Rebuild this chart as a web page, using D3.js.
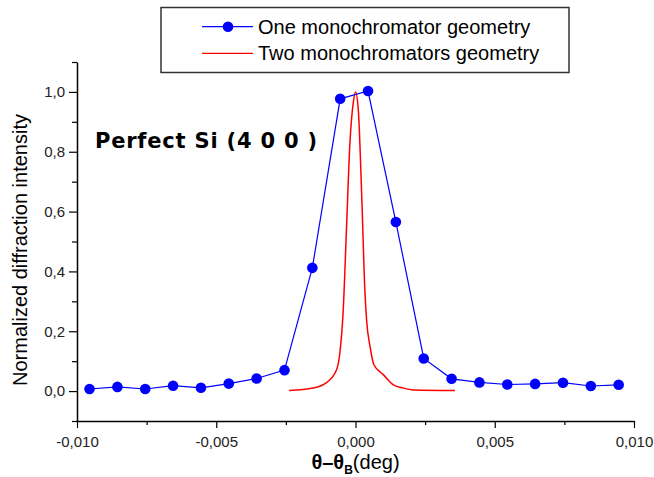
<!DOCTYPE html>
<html>
<head>
<meta charset="utf-8" />
<title></title>
<style>
html, body {
    padding: 0px;
    margin: 0px;
    background: #fff;
}
text {
    font-family: "Liberation Sans", Arial, sans-serif;
}
</style>
</head>
<body>
<div id="chart"></div>
<script src="https://cdnjs.cloudflare.com/ajax/libs/d3/7.8.5/d3.min.js"></script>
<script>
!(function(){
    "use strict"

    // one monochromator: measured points
    var oneX = [-0.00955, -0.00855, -0.00755, -0.00655, -0.00555, -0.00455, -0.00355, -0.00255, -0.00155, -0.00055,
                0.00045, 0.00145, 0.00245, 0.00345, 0.00445, 0.00545, 0.00645, 0.00745, 0.00845, 0.00945]
    var oneY = [0.007, 0.014, 0.007, 0.018, 0.011, 0.025, 0.042, 0.070, 0.412, 0.977,
                1.003, 0.565, 0.109, 0.041, 0.029, 0.022, 0.024, 0.028, 0.017, 0.021]

    // two monochromators: curve
    var twoX = [-0.00238, -0.00152, -0.00103, -0.00068, -0.00056, -0.00044, -0.00032, -0.00020, -0.00008, 0.00000,
                0.00010, 0.00022, 0.00034, 0.00040, 0.00052, 0.00066, 0.00100, 0.00136, 0.00172, 0.00208, 0.00357]
    var twoY = [0.002, 0.010, 0.029, 0.071, 0.128, 0.272, 0.551, 0.830, 0.964, 1.000,
                0.941, 0.663, 0.329, 0.235, 0.150, 0.088, 0.055, 0.021, 0.010, 0.004, 0.002]

    var xMajor = [-0.010, -0.005, 0.000, 0.005, 0.010]
    var xMinor = [-0.0075, -0.0025, 0.0025, 0.0075]
    var yMajor = [0.0, 0.2, 0.4, 0.6, 0.8, 1.0]
    var yMinor = [-0.1, 0.1, 0.3, 0.5, 0.7, 0.9, 1.1]

    var legendNames = ["One monochromator geometry", "Two monochromators geometry"]

    var W = 654, H = 477
    var fmt = function(d){ return d3.format(".3f")(d).replace(".", ",").replace("−", "-") }
    var fmtY = function(d){ return d3.format(".1f")(d).replace(".", ",") }

    var x = d3.scaleLinear().domain([-0.010, 0.010]).range([77, 634])
    var y = d3.scaleLinear().domain([-0.1, 1.1]).range([421, 62])

    var svg = d3.select("#chart").append("svg")
        .attr("width", W).attr("height", H)

    // axes
    var gx = svg.append("g").attr("transform", "translate(0," + y(-0.1) + ")")
        .call(d3.axisBottom(x).tickValues(xMajor).tickFormat(fmt).tickSize(7).tickSizeOuter(0))
    gx.append("g")
        .call(d3.axisBottom(x).tickValues(xMinor).tickFormat("").tickSize(4).tickSizeOuter(0))
        .select(".domain").remove()

    var gy = svg.append("g").attr("transform", "translate(" + x(-0.010) + ",0)")
        .call(d3.axisLeft(y).tickValues(yMajor).tickFormat(fmtY).tickSize(8).tickSizeOuter(0))
    gy.append("g")
        .call(d3.axisLeft(y).tickValues(yMinor).tickFormat("").tickSize(5).tickSizeOuter(0))
        .select(".domain").remove()

    svg.selectAll(".domain").attr("stroke", "#000").attr("stroke-width", 1.5)
    svg.selectAll(".tick line").attr("stroke", "#000").attr("stroke-width", 1.2)
    svg.selectAll(".tick text")
        .attr("font-size", 15).attr("fill", "#222")
    gx.selectAll(".tick text").attr("dy", null).attr("y", 26)
    gy.selectAll(".tick text").attr("x", -12)

    // axis titles
    var xt = svg.append("text")
        .attr("x", x(0)).attr("y", 469)
        .attr("text-anchor", "middle")
        .attr("font-size", 20)
    xt.append("tspan").attr("font-weight", "bold").text("\u03b8\u2013\u03b8")
    xt.append("tspan").attr("font-weight", "bold").attr("font-size", 12).attr("dy", 5).text("B")
    xt.append("tspan").attr("dy", -5).text("(deg)")

    svg.append("text")
        .attr("transform", "translate(27," + 250 + ") rotate(-90)")
        .attr("text-anchor", "middle")
        .attr("font-size", 20)
        .text("Normalized diffraction intensity")

    svg.append("text")
        .attr("x", 95).attr("y", 148)
        .style("font-family", "'DejaVu Sans', Verdana, sans-serif")
        .attr("font-weight", "bold")
        .attr("font-size", 21)
        .attr("textLength", 222)
        .attr("lengthAdjust", "spacing")
        .text("Perfect Si (4 0 0 )")

    // red curve
    var line = d3.line().x(function(d){ return x(d[0]) }).y(function(d){ return y(d[1]) })
    svg.append("path")
        .datum(d3.zip(twoX, twoY))
        .attr("d", line.curve(d3.curveMonotoneX))
        .attr("fill", "none").attr("stroke", "#ff0000").attr("stroke-width", 1.5)

    // blue series
    var oneData = d3.zip(oneX, oneY)
    svg.append("path")
        .datum(oneData)
        .attr("d", d3.line().x(function(d){ return x(d[0]) }).y(function(d){ return y(d[1]) }))
        .attr("fill", "none").attr("stroke", "#0000ff").attr("stroke-width", 1.2)
    svg.selectAll("circle.pt")
        .data(oneData).enter()
        .append("circle").attr("class", "pt")
        .attr("cx", function(d){ return x(d[0]) })
        .attr("cy", function(d){ return y(d[1]) })
        .attr("r", 5.3)
        .attr("fill", "#0000ff")

    // legend
    var lg = svg.append("g")
    lg.append("rect")
        .attr("x", 161).attr("y", 7.5).attr("width", 408).attr("height", 65)
        .attr("fill", "#fff").attr("stroke", "#333").attr("stroke-width", 1.5)
    var rows = [{c: "#0000ff", dot: true, y: 26.7}, {c: "#ff0000", dot: false, y: 53.3}]
    rows.forEach(function(r, i){
        lg.append("line").attr("x1", 202).attr("x2", 253).attr("y1", r.y).attr("y2", r.y)
            .attr("stroke", r.c).attr("stroke-width", 1.3)
        if (r.dot) lg.append("circle").attr("cx", 228).attr("cy", r.y).attr("r", 5.3).attr("fill", r.c)
        lg.append("text").attr("x", 258).attr("y", r.y + 7)
            .attr("font-size", 20).text(legendNames[i])
    })
}());
</script>
</body>
</html>
